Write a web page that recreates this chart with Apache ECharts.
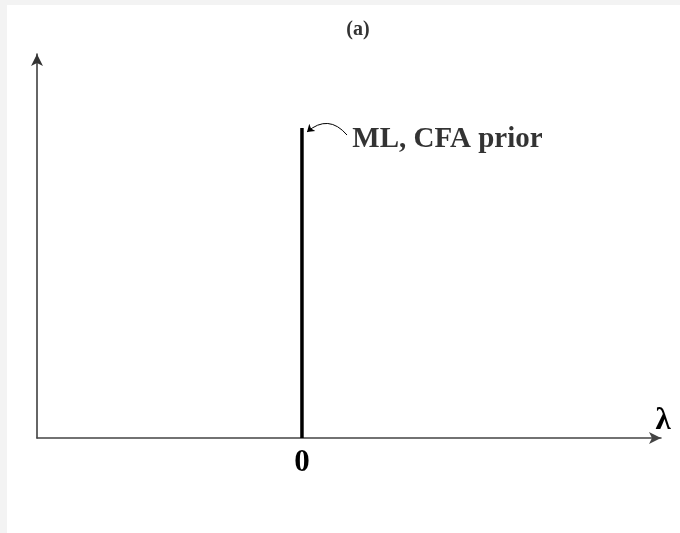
<!DOCTYPE html>
<html>
<head>
<meta charset="utf-8">
<script src="https://cdn.jsdelivr.net/npm/echarts@6/dist/echarts.min.js"></script>
<style>
  html, body { margin: 0; padding: 0; background: #f3f3f3; }
  #main { position: absolute; left: 7px; top: 5px; width: 673px; height: 528px; background: #fff; }
</style>
</head>
<body>
<div id="main"></div>
<script>
// axis ranges (lambda on x, density on y)
const xRange = [-1, 1.355]
const yRange = [0, 1]
const xTicks = [0]

// the spike at lambda = 0
const spikeX = [0, 0]
const spikeY = [0, 0.807]

// annotation
const noteText = 'ML, CFA prior'
const notePos = [0.19, 0.777]
const arrowFrom = [0.170, 0.789]
const arrowTo = [0.019, 0.797]

const serif = '"Liberation Serif", "Times New Roman", serif'

let myChart = echarts.init(document.getElementById('main'))
let option = {
    animation: false,
    title: {
        text: '(a)',
        left: 346,
        top: 10,
        textAlign: 'center',
        textStyle: { fontFamily: serif, fontSize: 20, fontWeight: 'bold', color: '#333' }
    },
    grid: { left: 30, top: 49, width: 624, height: 384 },
    xAxis: {
        type: 'value',
        min: xRange[0],
        max: xRange[1],
        interval: 1,
        name: 'λ',
        nameLocation: 'end',
        nameGap: 2,
        nameTextStyle: {
            fontFamily: serif, fontSize: 31, fontWeight: 'bold', color: '#000',
            align: 'center', verticalAlign: 'bottom', padding: [0, 0, 2, 0]
        },
        axisLine: {
            onZero: false,
            symbol: ['none', 'arrow'],
            symbolSize: [9, 12],
            lineStyle: { color: '#444', width: 1.5 }
        },
        axisTick: { show: false },
        splitLine: { show: false },
        axisLabel: {
            margin: 9,
            fontFamily: serif,
            fontSize: 31,
            fontWeight: 'bold',
            color: '#000',
            showMinLabel: true,
            showMaxLabel: true,
            formatter: function (v) { return xTicks.indexOf(v) >= 0 ? String(v) : '' }
        }
    },
    yAxis: {
        type: 'value',
        min: yRange[0],
        max: yRange[1],
        axisLine: {
            show: true,
            onZero: false,
            symbol: ['none', 'arrow'],
            symbolSize: [9, 12],
            lineStyle: { color: '#333', width: 1.5 }
        },
        axisTick: { show: false },
        axisLabel: { show: false },
        splitLine: { show: false }
    },
    series: [
        {
            type: 'line',
            data: spikeX.map((x, i) => [x, spikeY[i]]),
            symbol: 'none',
            lineStyle: { color: '#000', width: 3.5 }
        },
        {
            type: 'lines',
            coordinateSystem: 'cartesian2d',
            symbol: ['none', 'arrow'],
            symbolSize: 7,
            lineStyle: { color: '#000', width: 1, curveness: -0.5, opacity: 1 },
            data: [{ coords: [arrowFrom, arrowTo] }]
        },
        {
            type: 'scatter',
            symbolSize: 0,
            data: [notePos],
            label: {
                show: true,
                position: 'right',
                distance: 0,
                formatter: noteText,
                fontFamily: serif,
                fontSize: 29,
                fontWeight: 'bold',
                color: '#000'
            }
        }
    ]
}
myChart.setOption(option)
</script>
</body>
</html>
